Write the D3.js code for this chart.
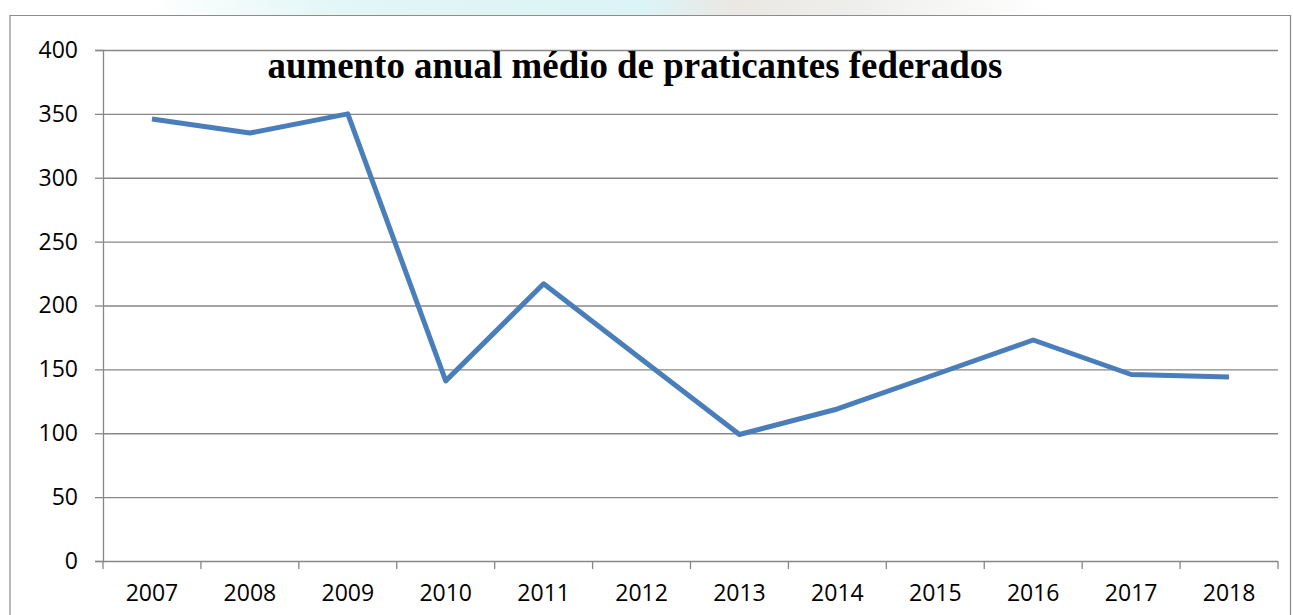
<!DOCTYPE html>
<html>
<head>
<meta charset="utf-8">
<script src="https://cdn.jsdelivr.net/npm/d3@7"></script>
<style>
  body { margin: 0; background: #fff; }
  svg { display: block; }
</style>
</head>
<body>
<div id="chart"></div>
<script>
const years = ["2007", "2008", "2009", "2010", "2011", "2012", "2013", "2014", "2015", "2016", "2017", "2018"];
const values = [346, 335, 350, 141, 217, 158, 99, 119, 146, 173, 146, 144];
const yTicks = [0, 50, 100, 150, 200, 250, 300, 350, 400];
const title = "aumento anual médio de praticantes federados";

const width = 1293, height = 615;
const margin = {left: 103, right: 15, top: 50, bottom: 54};

const svg = d3.select("#chart").append("svg")
  .attr("width", width)
  .attr("height", height);

// faint scanned background at the top edge
const defs = svg.append("defs");
const grad = defs.append("linearGradient").attr("id", "smudge");
grad.append("stop").attr("offset", "0%").attr("stop-color", "#fff");
grad.append("stop").attr("offset", "20%").attr("stop-color", "#e4f6f6");
grad.append("stop").attr("offset", "55%").attr("stop-color", "#dcf3f5");
grad.append("stop").attr("offset", "65%").attr("stop-color", "#ebe8e3");
grad.append("stop").attr("offset", "78%").attr("stop-color", "#eeeeec");
grad.append("stop").attr("offset", "100%").attr("stop-color", "#fff");
svg.append("rect")
  .attr("x", 150).attr("y", 0)
  .attr("width", 900).attr("height", 15)
  .attr("fill", "url(#smudge)");

// outer frame (bottom edge is cut off)
svg.append("path")
  .attr("d", `M10,${height} V15.5 H1290.5 V${height}`)
  .attr("fill", "none")
  .attr("stroke", "#8c8c8c")
  .attr("stroke-width", 1.2);

const x = d3.scaleBand()
  .domain(years)
  .range([margin.left, width - margin.right]);

const y = d3.scaleLinear()
  .domain([0, 400])
  .range([height - margin.bottom, margin.top]);

// gridlines + y ticks
svg.append("g")
  .attr("transform", `translate(${margin.left},0)`)
  .call(d3.axisLeft(y).tickValues(yTicks).tickSize(8).tickPadding(17))
  .call(g => g.select(".domain").attr("stroke", "#878787").attr("stroke-width", 1.3))
  .call(g => g.selectAll(".tick line").attr("stroke", "#878787").attr("stroke-width", 1.3))
  .call(g => g.selectAll(".tick").append("line")
    .attr("x2", width - margin.right - margin.left)
    .attr("stroke", "#878787")
    .attr("stroke-width", 1.3))
  .call(g => g.selectAll("text")
    .attr("fill", "#000")
    .attr("font-family", "'Open Sans', sans-serif")
    .attr("font-size", 23));

// x axis: labels centred in bands, ticks on band edges
const xAxis = svg.append("g")
  .attr("transform", `translate(0,${y(0)})`)
  .call(d3.axisBottom(x).tickSize(0).tickPadding(24))
  .call(g => g.select(".domain").remove())
  .call(g => g.selectAll("text")
    .attr("fill", "#000")
    .attr("font-family", "'Open Sans', sans-serif")
    .attr("font-size", 23));

const edges = years.map(d => x(d)).concat([x(years[years.length - 1]) + x.bandwidth()]);
xAxis.selectAll("line.edge")
  .data(edges)
  .join("line")
  .attr("class", "edge")
  .attr("x1", d => d).attr("x2", d => d)
  .attr("y1", 0).attr("y2", 8)
  .attr("stroke", "#878787")
  .attr("stroke-width", 1.3);

// title
svg.append("text")
  .attr("x", 635)
  .attr("y", 78)
  .attr("text-anchor", "middle")
  .attr("font-family", "'Liberation Serif', serif")
  .attr("font-weight", "bold")
  .attr("font-size", 37)
  .attr("textLength", 735)
  .attr("lengthAdjust", "spacingAndGlyphs")
  .text(title);

// series line
const line = d3.line()
  .x((d, i) => x(years[i]) + x.bandwidth() / 2)
  .y(d => y(d));

svg.append("path")
  .datum(values)
  .attr("d", line)
  .attr("fill", "none")
  .attr("stroke", "#4a7ebb")
  .attr("stroke-width", 5)
  .attr("stroke-linejoin", "round");
</script>
</body>
</html>
